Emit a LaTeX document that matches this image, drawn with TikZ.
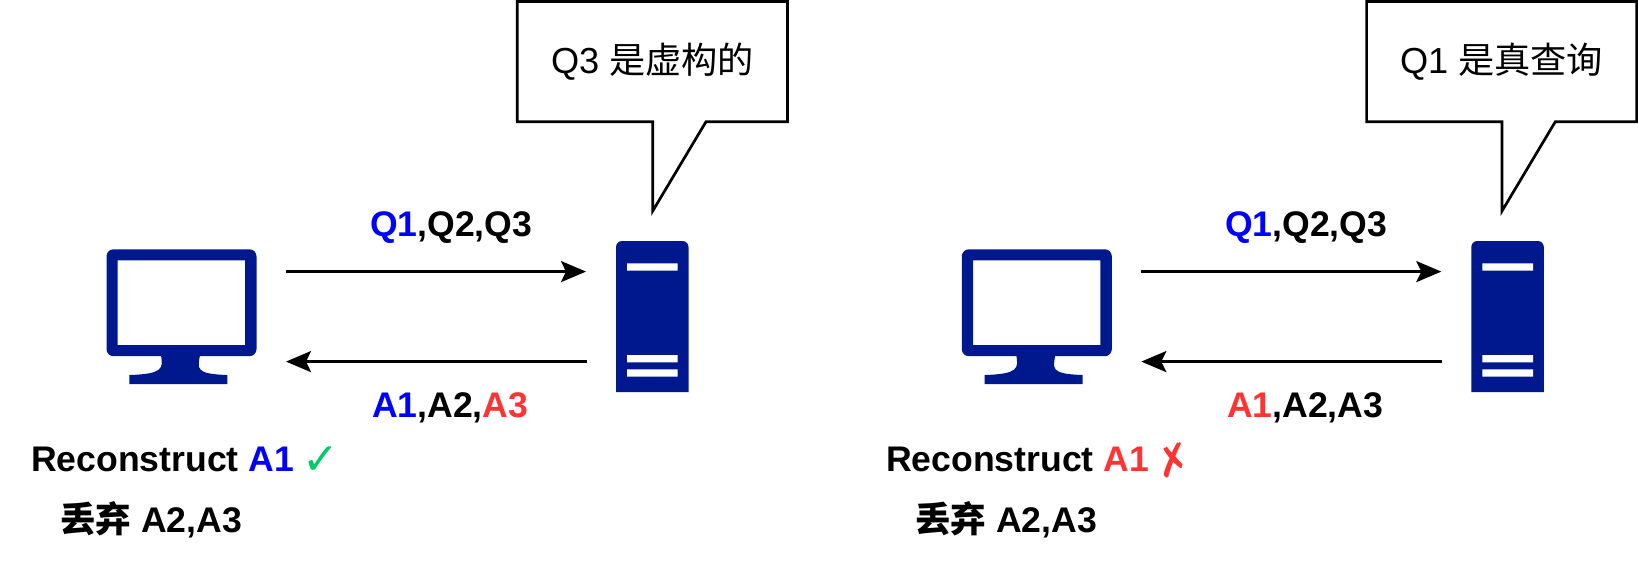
\documentclass[tikz,border=0pt]{standalone}
\usepackage{fontspec}
\usetikzlibrary{arrows.meta}
\setmainfont{Liberation Sans}
\newfontfamily\cjk{Noto Sans CJK SC}
\newfontfamily\sym{DejaVu Sans}
\definecolor{navy}{HTML}{00188D}
\definecolor{qblue}{HTML}{0000FF}
\definecolor{ared}{HTML}{FF3333}
\definecolor{okgreen}{HTML}{00CC66}
\newcommand{\lab}[1]{\fontsize{35.6}{40}\selectfont\bfseries #1}
\newcommand{\monitor}[1]{%
  \begin{scope}[shift={(#1,0)}]
  \fill[navy,even odd rule,rounded corners=7pt] (106.5,249.3) rectangle (256.5,356.2)
     [sharp corners] (117.7,260.3) rectangle (245,345);
  \fill[navy] (161,355) .. controls (163,368) and (164,374) .. (129.3,375) -- (129.3,384) -- (227.3,384) -- (227.3,375)
     .. controls (194,374) and (198,368) .. (200,355) -- cycle;
  \end{scope}}
\newcommand{\server}[1]{%
  \begin{scope}[shift={(#1,0)}]
  \fill[navy] (616,392) -- (616,247) arc[start angle=180,end angle=270,radius=6] -- (682.5,241) arc[start angle=270,end angle=360,radius=6] -- (688.5,392) -- cycle;
  \fill[white] (627,263.3) rectangle (677.7,270.7) (627,355) rectangle (677.7,362.3) (627,369.3) rectangle (677.7,376.7);
  \end{scope}}
\newcommand{\callout}[1]{%
  \begin{scope}[shift={(#1,0)}]
  \draw[line width=2.7pt,miter limit=10,fill=white] (517.3,1.5) -- (787.5,1.5) -- (787.5,121.7) -- (706,121.7) -- (652.7,211) -- (652.7,121.7) -- (517.3,121.7) -- cycle;
  \end{scope}}
\tikzset{lbl/.style={inner sep=0,outer sep=0,anchor=base west},
  markcell/.style={inner sep=0,outer sep=0},
  conn/.style={line width=2.7pt,-{Stealth[length=25pt,width=21pt,inset=5pt]}}}
\begin{document}
\begin{tikzpicture}[x=1pt,y=-1pt]
\useasboundingbox (0,0) rectangle (1638,567);
\monitor{0}\server{0}\callout{0}
\monitor{855.3}\server{855.3}\callout{849.3}
\node[lbl] (c1) at (551,74) {\fontsize{36.2}{40}\selectfont Q3 {\cjk 是虚构的}};
\node[lbl] (c2) at (1400,74) {\fontsize{36.2}{40}\selectfont Q1 {\cjk 是真查询}};
\coordinate (a1s) at (286,271.6); \coordinate (a1e) at (586,271.6);
\coordinate (b1s) at (587,361.6); \coordinate (b1e) at (286,361.6);
\coordinate (a2s) at (1141.3,271.6); \coordinate (a2e) at (1441.3,271.6);
\coordinate (b2s) at (1442.3,361.6); \coordinate (b2e) at (1141.3,361.6);
\draw[conn] (a1s) -- (a1e); \draw[conn] (b1s) -- (b1e);
\draw[conn] (a2s) -- (a2e); \draw[conn] (b2s) -- (b2e);
\node[lbl] (q1) at (370,236) {\lab{\textcolor{qblue}{Q1},Q2,Q3}};
\node[lbl] (r1) at (372,417) {\lab{\textcolor{qblue}{A1},A2,\textcolor{ared}{A3}}};
\node[lbl] (q2) at (1225,236) {\lab{\textcolor{qblue}{Q1},Q2,Q3}};
\node[lbl] (r2) at (1227,417) {\lab{\textcolor{ared}{A1},A2,A3}};
\node[lbl] (t1) at (31,471) {\lab{Reconstruct \textcolor{qblue}{A1}}};
\node[markcell] (m1) at (321,460.5) {\color{okgreen}\fontsize{44}{48}\selectfont\sym ✓};
\node[lbl] (d1) at (60,532) {\lab{{\cjk 丢弃} A2,A3}};
\node[lbl] (t2) at (886,471) {\lab{Reconstruct \textcolor{ared}{A1}}};
\node[markcell,rotate=15] (m2) at (1174,460) {\color{ared}\fontsize{42}{46}\selectfont\sym ✗};
\node[lbl] (d2) at (915,532) {\lab{{\cjk 丢弃} A2,A3}};
\end{tikzpicture}
\end{document}
